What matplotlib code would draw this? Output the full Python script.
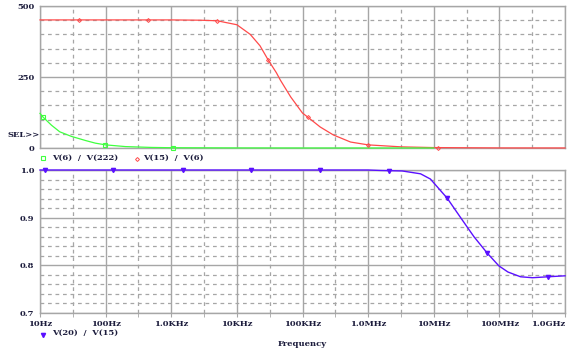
import matplotlib
matplotlib.use("Agg")
import matplotlib.pyplot as plt
from matplotlib.ticker import FixedLocator, NullFormatter
import numpy as np

# data (frequency in Hz)
green_f = [10, 11.1, 15, 20, 30, 50, 70, 100, 200, 500, 1e3, 1e4, 1e5, 1e6, 1e7]
green_v = [122, 109, 80, 57, 41, 26, 17, 11, 5, 2, 1, 0.3, 0.1, 0.05, 0.02]

red_f = [10, 100, 1e3, 2.75e3, 5e3, 1e4, 1.6e4, 2.25e4, 3e4, 4e4, 4.6e4, 6.6e4, 1e5, 1.2e5,
         1.86e5, 2.95e5, 5.4e5, 1e6, 3.2e6, 1e7, 1e8, 1e9]
red_v = [451, 451, 451, 450, 448, 434, 400, 360, 310, 265, 239, 180, 123, 109,
         74, 46, 21, 11, 4, 1.5, 0.3, 0.1]

blue_f = [10, 1e6, 1.55e6, 3.3e6, 6.3e6, 8.9e6, 1.6e7, 2.6e7, 4.1e7, 6.5e7, 9.8e7,
          1.35e8, 2.1e8, 3.2e8, 5.5e8, 1e9]
blue_v = [1.0, 1.0, 0.999, 0.998, 0.992, 0.981, 0.941, 0.899, 0.86, 0.826, 0.799,
          0.786, 0.776, 0.774, 0.776, 0.778]

green_mk = [11.1, 98, 1.07e3]
red_mk = [39, 447, 5e3, 3e4, 1.2e5, 1e6, 1.15e7]
blue_mk = [11.9, 129, 1.5e3, 1.66e4, 1.82e5, 2.1e6, 1.6e7, 6.5e7, 5.5e8]

xticks = [10, 100, 1e3, 1e4, 1e5, 1e6, 1e7, 1e8, 1e9]
xlabels = ["10Hz", "100Hz", "1.0KHz", "10KHz", "100KHz", "1.0MHz", "10MHz", "100MHz", "1.0GHz"]

gcol = "#40ff40"
rcol = "#ff4a4a"
bcol = "#5a10ff"
gridc = "#a6a6a6"
txtc = "#1c1c3c"
fnt = dict(family="DejaVu Serif", size=6, weight="bold", color=txtc)

fig = plt.figure(figsize=(5.75, 3.52), dpi=100)
ax1 = fig.add_axes([40/575, 1-148/352, 525/575, 142/352])
ax2 = fig.add_axes([40/575, 1-313/352, 525/575, 143/352])


def setup(ax, yticks, yminor, ylim):
    ax.set_xscale("log")
    ax.set_xlim(10, 1e9)
    ax.set_ylim(*ylim)
    ax.xaxis.set_major_locator(FixedLocator(xticks))
    ax.xaxis.set_minor_locator(FixedLocator([np.sqrt(10)*t for t in xticks[:-1]]))
    ax.yaxis.set_major_locator(FixedLocator(yticks))
    ax.yaxis.set_minor_locator(FixedLocator(yminor))
    ax.xaxis.set_minor_formatter(NullFormatter())
    ax.grid(True, which="major", color=gridc, lw=1.0, ls="-")
    ax.grid(True, which="minor", color=gridc, lw=0.9, ls=(0, (3, 3)))
    ax.set_axisbelow(True)
    for s in ax.spines.values():
        s.set_color(gridc)
        s.set_linewidth(1.0)
    ax.tick_params(which="both", length=0, colors=txtc)
    ax.tick_params(axis="y", pad=4)


setup(ax1, [0, 250, 500], np.arange(50, 500, 50), (0, 500))
ax1.set_yticklabels(["0", "250", "500"], fontdict=fnt)
ax1.set_xticklabels([])
ax1.plot(red_f, red_v, color=rcol, lw=0.9, clip_on=False, zorder=3)
ax1.plot(green_f, green_v, color=gcol, lw=0.9, clip_on=False, zorder=3)
ax1.plot(green_mk, np.interp(np.log10(green_mk), np.log10(green_f), green_v), ls="none",
         marker="s", ms=3, mfc="none", mec=gcol, mew=0.8, clip_on=False, zorder=4)
ax1.plot(red_mk, np.interp(np.log10(red_mk), np.log10(red_f), red_v), ls="none",
         marker="D", ms=2, mfc="none", mec=rcol, mew=0.7, clip_on=False, zorder=4)
fig.text(8/575, 1-135/352, "SEL>>", va="center", ha="left", **fnt)

setup(ax2, [0.7, 0.8, 0.9, 1.0], [v for v in np.arange(0.72, 1.0, 0.02) if round(v*100) % 10],
      (0.7, 1.0))
ax2.set_yticklabels(["0.7", "0.8", "0.9", "1.0"], fontdict=fnt)
ax2.set_xticklabels(xlabels, fontdict=fnt)
ax2.tick_params(axis="x", which="both", length=3, color=gridc, pad=2)
ax2.get_xticklabels()[-1].set_ha("right")
ax2.plot(blue_f, blue_v, color=bcol, lw=1.0, clip_on=False, zorder=3)
ax2.plot(blue_mk, np.interp(np.log10(blue_mk), np.log10(blue_f), blue_v), ls="none",
         marker="v", ms=3, mfc=bcol, mec=bcol, clip_on=False, zorder=4)

# legends, PSpice style
fig.lines.append(plt.Line2D([43/575], [1-158/352], marker="s", ms=3, mfc="none", mec=gcol,
                            mew=0.8, transform=fig.transFigure))
fig.text(52/575, 1-158/352, "V(6)  /  V(222)", va="center", ha="left", **fnt)
fig.lines.append(plt.Line2D([137/575], [1-159/352], marker="D", ms=2, mfc="none", mec=rcol,
                            mew=0.7, transform=fig.transFigure))
fig.text(143/575, 1-158/352, "V(15)  /  V(6)", va="center", ha="left", **fnt)
fig.lines.append(plt.Line2D([43/575], [1-335/352], marker="v", ms=3, mfc=bcol, mec=bcol,
                            transform=fig.transFigure))
fig.text(52/575, 1-333/352, "V(20)  /  V(15)", va="center", ha="left", **fnt)
fig.text(302/575, 1-344/352, "Frequency", va="center", ha="center", **fnt)

fig.savefig("out.png", dpi=100)
